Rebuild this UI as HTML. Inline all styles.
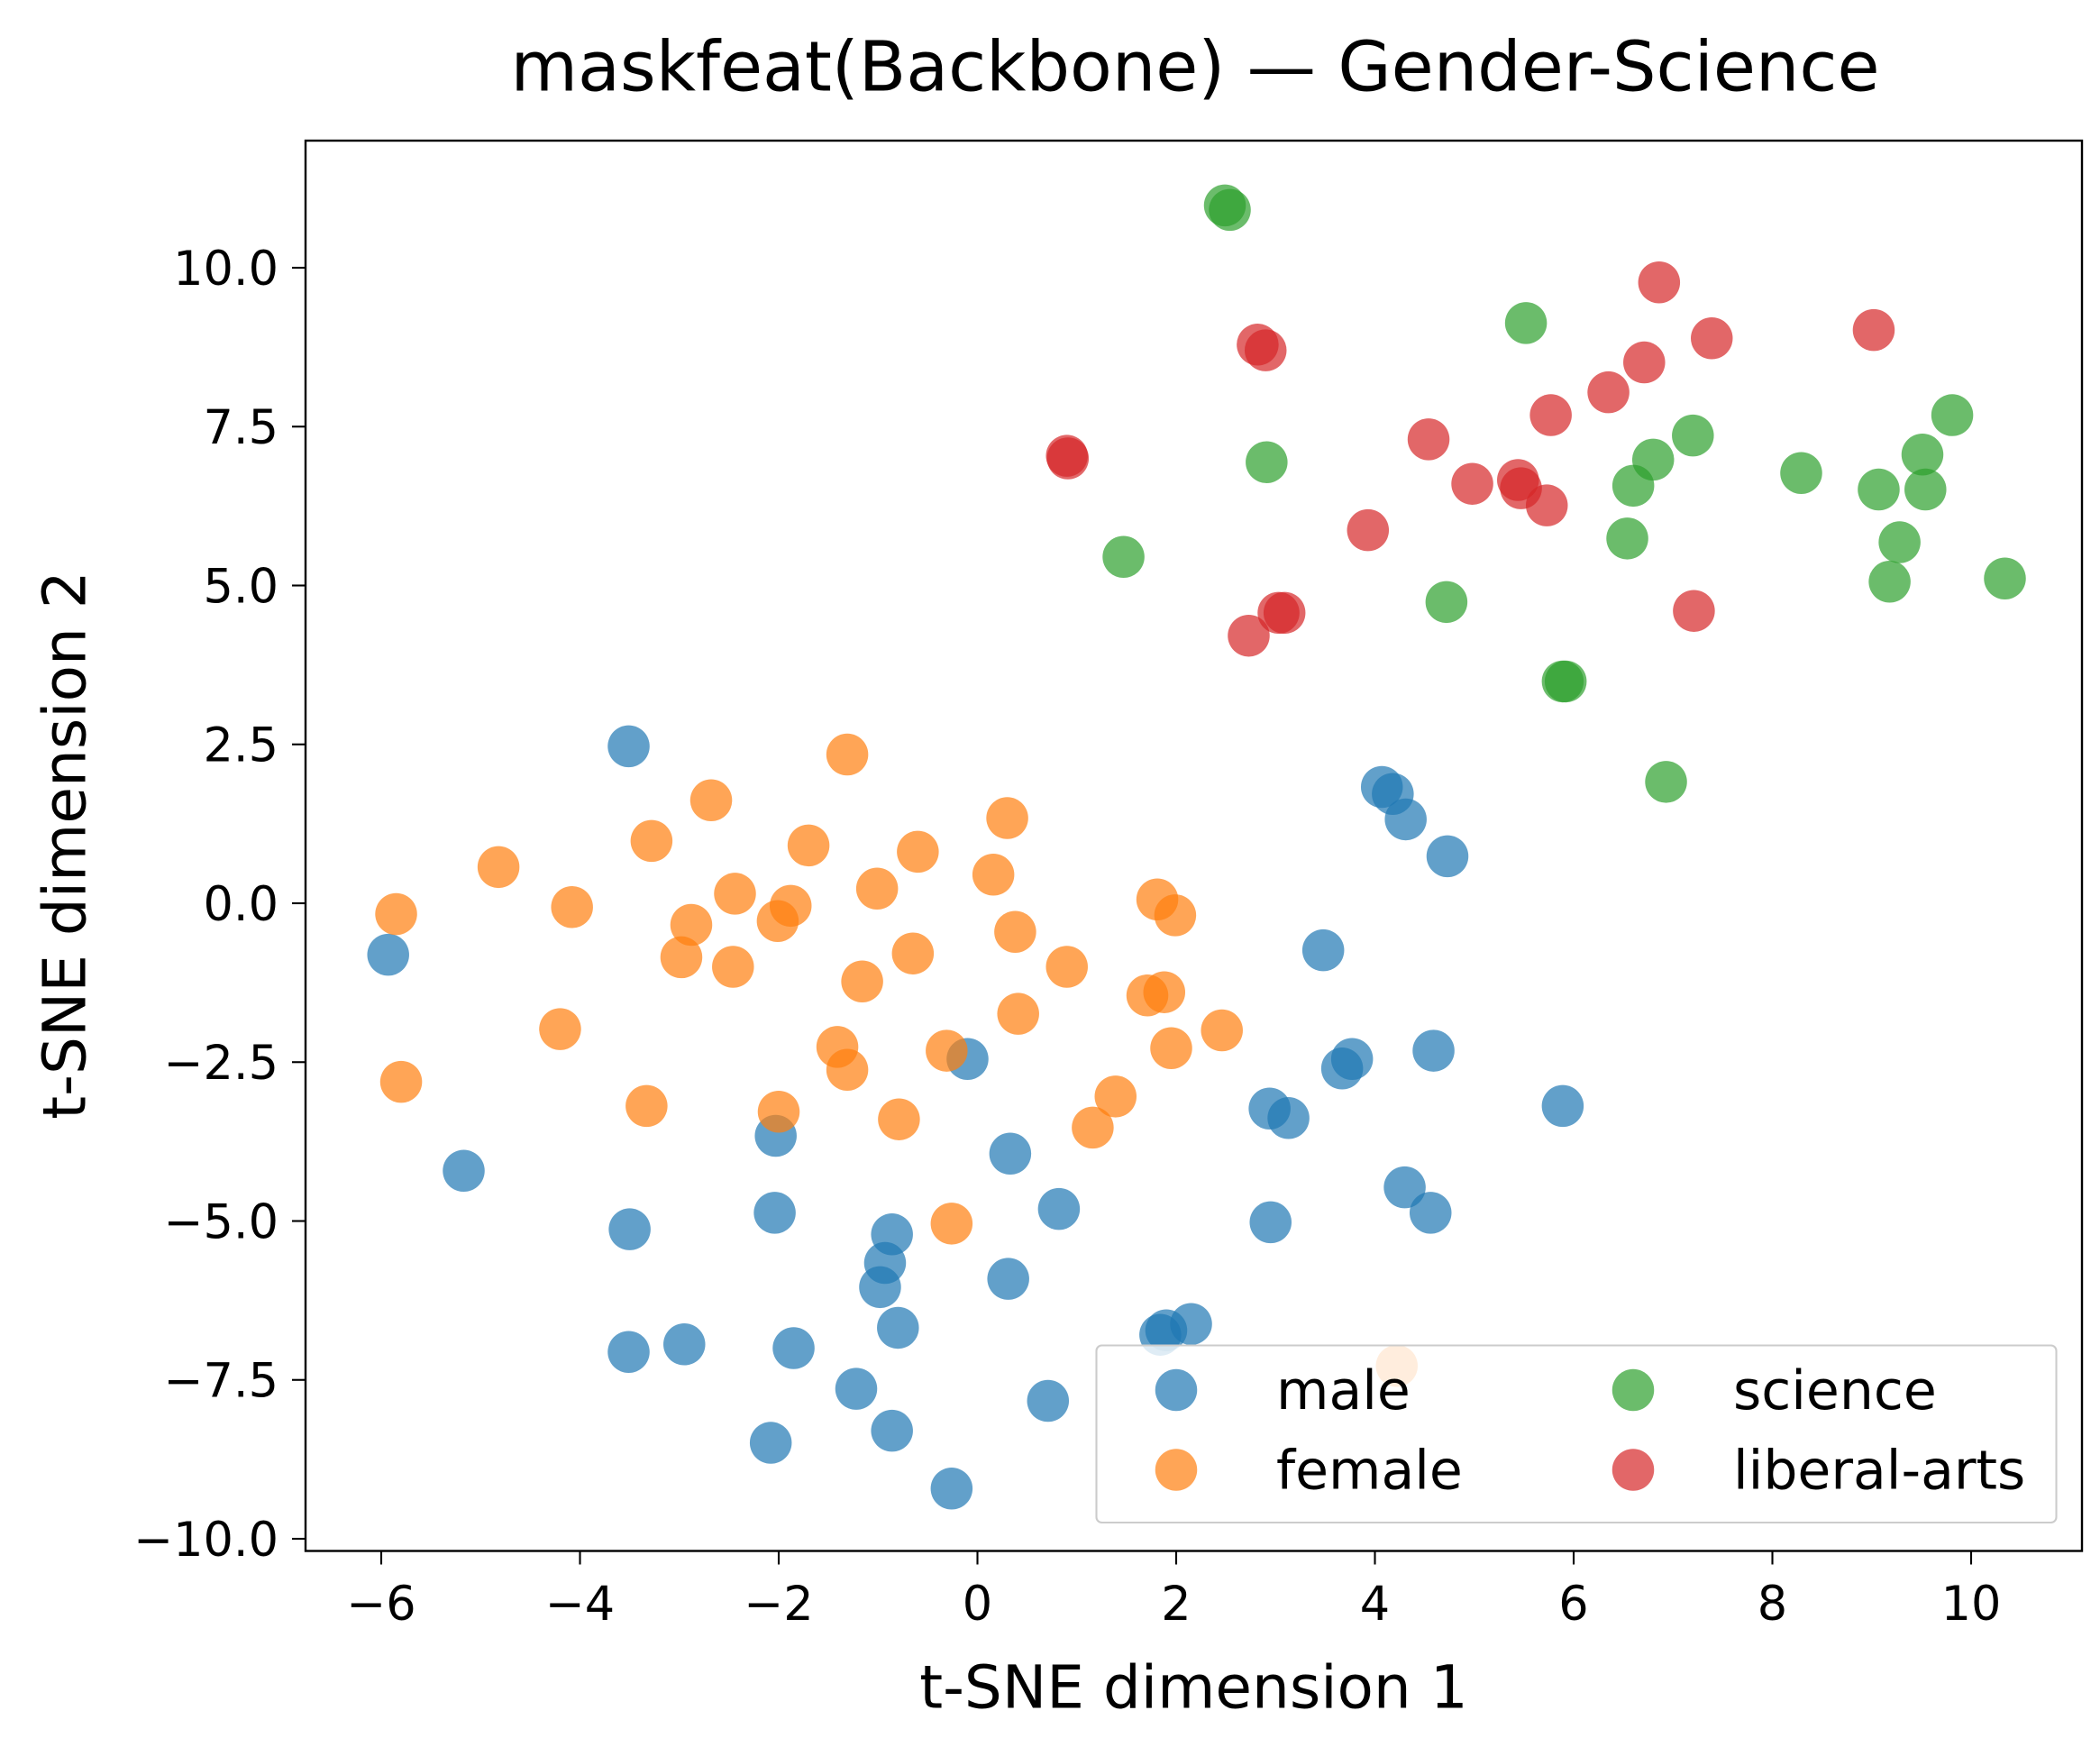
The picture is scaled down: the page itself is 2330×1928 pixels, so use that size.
<!DOCTYPE html>
<html><head><meta charset="utf-8"><style>
html,body{margin:0;padding:0;background:#fff}
svg{display:block}
text{font-family:"DejaVu Sans","Liberation Sans",sans-serif;fill:#000}
</style></head><body>
<svg id="chart" width="2330" height="1928" viewBox="0 0 1553.33 1285.33" xmlns="http://www.w3.org/2000/svg">
<rect width="1553.33" height="1285.33" fill="#fff"/>
<text x="884" y="67" font-size="51" text-anchor="middle">maskfeat(Backbone) — Gender-Science</text>
<g id="marks"></g>
<rect x="226" y="104" width="1314" height="1043" fill="none" stroke="#000" stroke-width="1.6"/>
<g id="xt"></g>
<g id="yt"></g>
<text x="883" y="1263" font-size="44" text-anchor="middle">t-SNE dimension 1</text>
<text transform="translate(63,625) rotate(-90)" font-size="44" text-anchor="middle">t-SNE dimension 2</text>
<g id="legend"></g>
</svg>
<script>
const maleX=[-3.51,-5.93,-5.17,-3.50,-3.51,-2.95,-2.03,-2.04,-1.85,-1.22,-2.08,-0.86,-0.93,-0.98,-0.80,-0.86,-0.26,-0.10,0.33,0.31,0.82,0.71,1.84,1.90,2.15,3.48,2.94,3.13,2.95,3.67,3.77,4.59,4.30,4.56,5.89,4.07,4.18,4.31,4.73];
const maleY=[2.47,-0.81,-4.21,-5.13,-7.06,-6.94,-3.66,-4.87,-7.0,-7.64,-8.49,-5.21,-5.66,-6.04,-6.68,-8.30,-9.21,-2.45,-3.94,-5.91,-4.81,-7.83,-6.79,-6.72,-6.62,-0.74,-3.23,-3.38,-5.02,-2.60,-2.45,-2.32,-4.47,-4.87,-3.19,1.83,1.72,1.32,0.74];
const femaleX=[-5.85,-5.80,-4.82,-4.08,-4.20,-3.33,-3.28,-2.68,-2.88,-2.98,-2.44,-2.46,-2.01,-1.88,-1.70,-1.31,-2.0,-1.41,-1.31,-1.16,-1.01,-0.60,-0.65,-0.79,-0.31,-0.26,0.16,0.30,0.38,0.41,0.90,1.16,1.39,1.71,1.88,1.81,1.99,1.95,2.46,4.22];
const femaleY=[-0.17,-2.81,0.57,-0.06,-1.98,-3.19,0.98,1.62,-0.34,-0.85,0.15,-1.0,-0.28,-0.04,0.91,2.34,-3.28,-2.26,-2.62,-1.23,0.23,0.81,-0.79,-3.40,-2.32,-5.04,0.45,1.34,-0.45,-1.74,-1.0,-3.53,-3.04,-1.45,-1.40,0.06,-0.19,-2.28,-2.0,-7.28];
const scienceX=[2.49,2.54,1.47,2.91,4.72,5.52,5.89,5.92,6.54,6.60,6.80,6.93,7.20,8.29,9.07,9.28,9.18,9.51,9.54,9.81,10.34];
const scienceY=[10.98,10.91,5.45,6.94,4.74,9.13,3.49,3.49,5.74,6.57,6.98,1.91,7.36,6.77,6.51,5.68,5.06,7.06,6.51,7.68,5.11];
const artsX=[0.90,0.91,2.82,2.90,2.73,3.03,3.09,3.93,4.54,4.98,5.44,5.47,5.73,5.77,6.35,6.71,6.86,7.21,7.39,9.02];
const artsY=[7.04,7.0,8.79,8.70,4.21,4.57,4.57,5.87,7.30,6.60,6.66,6.53,6.26,7.68,8.04,8.51,9.77,4.60,8.89,9.02];
const xTicks=[-6,-4,-2,0,2,4,6,8,10];
const yTicks=[-10,-7.5,-5,-2.5,0,2.5,5,7.5,10];
const seriesNames=["male","female","science","liberal-arts"];

const NS="http://www.w3.org/2000/svg";
const X0=723,XU=73.5,Y0=668,YU=47;
function sx(v){return X0+v*XU;}
function sy(v){return Y0-v*YU;}
function mk(tag,attrs,parent){const e=document.createElementNS(NS,tag);for(const k in attrs)e.setAttribute(k,attrs[k]);parent.appendChild(e);return e;}
const colors=["#1f77b4","#ff7f0e","#2ca02c","#d62728"];
const series=[[maleX,maleY],[femaleX,femaleY],[scienceX,scienceY],[artsX,artsY]];
const marks=document.getElementById('marks');
series.forEach((s,i)=>{
  s[0].forEach((xv,j)=>{
    const c=mk('circle',{cx:sx(xv),cy:sy(s[1][j]),r:15.5,fill:colors[i],'fill-opacity':0.7},marks);
    
    
  });
});
const xt=document.getElementById('xt');
xTicks.forEach(t=>{
  const x=sx(t);
  const l=mk('line',{x1:x,x2:x,y1:1147,y2:1157,stroke:'#000','stroke-width':1.4},xt);
  
  
  const tx=mk('text',{x:x,y:1198,'font-size':35,'text-anchor':'middle'},xt);
  tx.textContent=(t<0?'\u2212'+Math.abs(t):String(t));
  
  
});
const yt=document.getElementById('yt');
yTicks.forEach(t=>{
  const y=sy(t);
  const l=mk('line',{x1:216,x2:226,y1:y,y2:y,stroke:'#000','stroke-width':1.4},yt);
  
  
  const tx=mk('text',{x:206,y:y+12.5,'font-size':35,'text-anchor':'end'},yt);
  tx.textContent=(t<0?'\u2212':'')+Math.abs(t).toFixed(1);
  
  
});
const lg=document.getElementById('legend');
const box=mk('rect',{x:811,y:995,width:710,height:131,rx:4,fill:'#fff','fill-opacity':0.8,stroke:'#ccc','stroke-width':1.4},lg);


const pos=[[870,1028],[870,1087],[1208,1028],[1208,1087]];
seriesNames.forEach((n,i)=>{
  const c=mk('circle',{cx:pos[i][0],cy:pos[i][1],r:15.5,fill:colors[i],'fill-opacity':0.7},lg);
  
  
  const t=mk('text',{x:pos[i][0]+74,y:pos[i][1]+14,'font-size':40},lg);
  t.textContent=n;
  
  
});
</script>
</body></html>
